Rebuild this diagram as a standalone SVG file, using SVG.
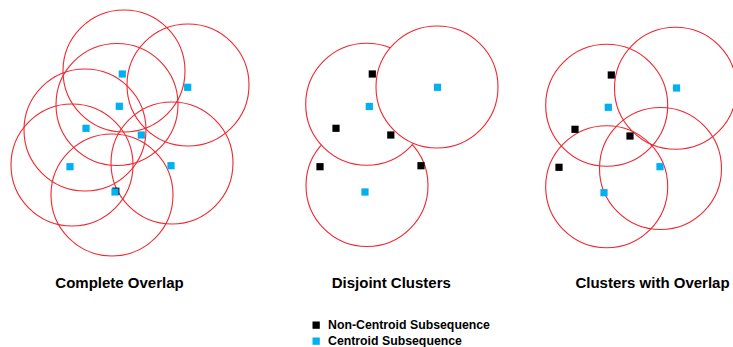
<svg xmlns="http://www.w3.org/2000/svg" width="733" height="347" viewBox="0 0 733 347">
<defs>
<style>
.c{fill:none;stroke:#f0262e;stroke-width:1.1}
.w{fill:#fff;stroke:#f0262e;stroke-width:1.1}
.k{fill:#000}
.b{fill:#00b0f0}
.t{font-family:"Liberation Sans",Arial,sans-serif;font-weight:bold;font-size:15px;fill:#000;text-anchor:middle}
.l{font-family:"Liberation Sans",Arial,sans-serif;font-weight:bold;font-size:12.3px;fill:#000}
</style>
<rect id="sq" x="-3.6" y="-3.6" width="7.2" height="7.2"/>
</defs>
<rect width="733" height="347" fill="#fff"/>
<g id="complete-overlap">
<circle class="c" cx="124" cy="71" r="61"/>
<circle class="c" cx="188" cy="85" r="61"/>
<circle class="c" cx="117" cy="104.5" r="61"/>
<circle class="c" cx="85" cy="130" r="61"/>
<circle class="c" cx="72" cy="165" r="61"/>
<circle class="c" cx="172" cy="163" r="61"/>
<circle class="c" cx="112" cy="195" r="61"/>
<use href="#sq" class="k" x="115.8" y="191.2"/>
<use href="#sq" class="b" x="122.3" y="74"/>
<use href="#sq" class="b" x="187.7" y="87.3"/>
<use href="#sq" class="b" x="119.3" y="106.3"/>
<use href="#sq" class="b" x="86" y="128.3"/>
<use href="#sq" class="b" x="141.3" y="135"/>
<use href="#sq" class="b" x="70" y="166.7"/>
<use href="#sq" class="b" x="171" y="165.7"/>
<use href="#sq" class="b" x="115" y="192"/>
<text class="t" x="119.5" y="288">Complete Overlap</text>
</g>
<g id="disjoint-clusters">
<circle class="w" cx="367" cy="185.5" r="61"/>
<circle class="w" cx="366.7" cy="104.3" r="61"/>
<circle class="w" cx="437" cy="87" r="61"/>
<use href="#sq" class="k" x="372.3" y="74"/>
<use href="#sq" class="b" x="437.5" y="87.3"/>
<use href="#sq" class="b" x="369.3" y="106.5"/>
<use href="#sq" class="k" x="336" y="128.3"/>
<use href="#sq" class="k" x="390.8" y="135"/>
<use href="#sq" class="k" x="320" y="166.7"/>
<use href="#sq" class="k" x="421" y="165.7"/>
<use href="#sq" class="b" x="365" y="192"/>
<text class="t" x="391.3" y="288">Disjoint Clusters</text>
</g>
<g id="clusters-with-overlap">
<circle class="c" cx="606.7" cy="105.2" r="61"/>
<circle class="c" cx="675.5" cy="88.3" r="61"/>
<circle class="c" cx="606.7" cy="186.8" r="61"/>
<circle class="c" cx="660.5" cy="168.5" r="61"/>
<use href="#sq" class="k" x="611.3" y="75"/>
<use href="#sq" class="b" x="676.5" y="88"/>
<use href="#sq" class="b" x="608.3" y="107.3"/>
<use href="#sq" class="k" x="575" y="129.3"/>
<use href="#sq" class="k" x="630" y="136"/>
<use href="#sq" class="k" x="559" y="167.3"/>
<use href="#sq" class="b" x="660" y="166.7"/>
<use href="#sq" class="b" x="604" y="192.7"/>
<text class="t" x="652.5" y="288">Clusters with Overlap</text>
</g>
<g id="legend">
<rect class="k" x="312.5" y="321.5" width="7.3" height="7.3"/>
<text class="l" x="328" y="329">Non-Centroid Subsequence</text>
<rect class="b" x="312.5" y="337.5" width="7.3" height="7.3"/>
<text class="l" x="328" y="344.5">Centroid Subsequence</text>
</g>
<g id="connectors"/>
</svg>
